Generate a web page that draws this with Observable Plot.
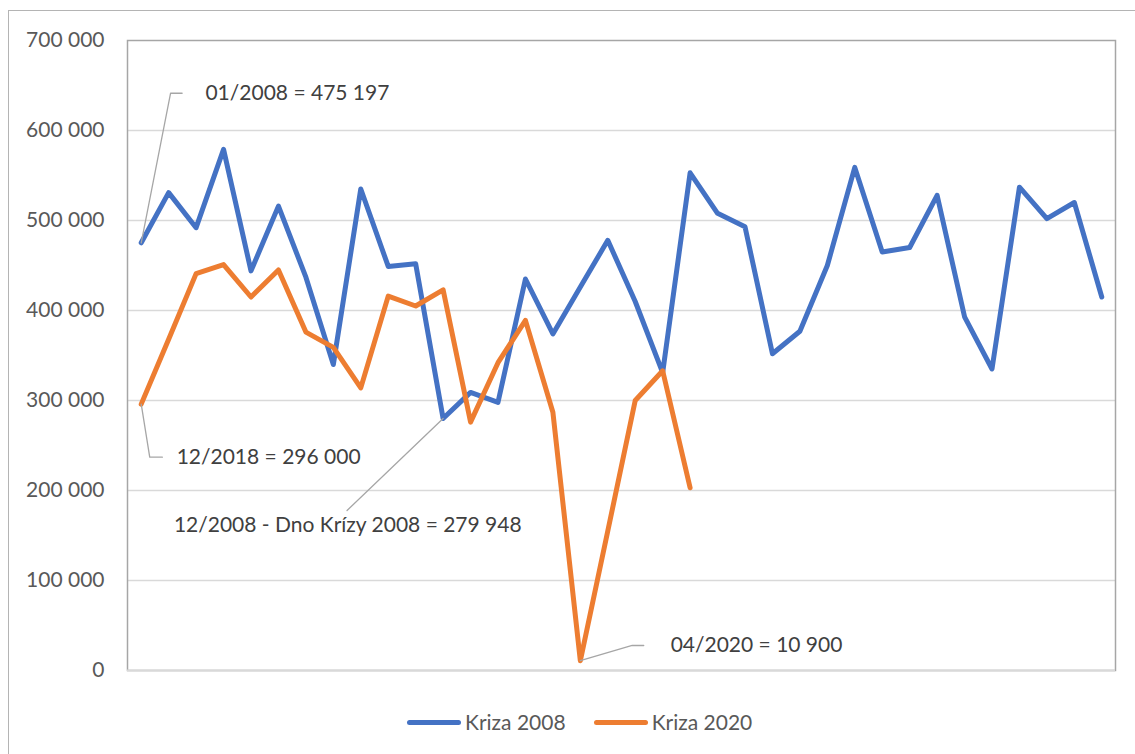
<!DOCTYPE html>
<html>
<head>
<meta charset="utf-8">
<script src="https://cdn.jsdelivr.net/npm/d3@7"></script>
<script src="https://cdn.jsdelivr.net/npm/@observablehq/plot@0.6"></script>
<style>
  body { margin: 0; background: #fff; font-family: Lato, "Open Sans", sans-serif; }
  #wrap { position: relative; width: 1135px; height: 754px; overflow: hidden; }
  #frame { position: absolute; left: 8px; top: 10px; width: 1200px; height: 800px;
           border-top: 1.5px solid #b4b4b4; border-left: 1.5px solid #b4b4b4; }
  #chart { position: absolute; left: 0; top: 0; }
  #legend { position: absolute; top: 708px; left: 407px; display: flex; align-items: center;
            font-size: 21px; color: #595959; line-height: 28px; }
  .item { display: flex; align-items: center; margin-right: 28px; }
  .sw { width: 54px; height: 5px; border-radius: 3px; margin-right: 4px; }
</style>
</head>
<body>
<div id="wrap">
  <div id="frame"></div>
  <div id="chart"></div>
  <div id="legend"></div>
</div>
<script>
// ---- data ----
const seriesNames = ["Kriza 2008", "Kriza 2020"];
const seriesColors = ["#4472C4", "#ED7D31"];

const months2008 = [
  "01/2008","02/2008","03/2008","04/2008","05/2008","06/2008","07/2008","08/2008","09/2008","10/2008","11/2008","12/2008",
  "01/2009","02/2009","03/2009","04/2009","05/2009","06/2009","07/2009","08/2009","09/2009","10/2009","11/2009","12/2009",
  "01/2010","02/2010","03/2010","04/2010","05/2010","06/2010","07/2010","08/2010","09/2010","10/2010","11/2010","12/2010"
];
const kriza2008 = [
  475197, 531000, 492000, 579000, 444000, 516000, 437000, 340000, 535000, 449000, 452000, 279948,
  309000, 298000, 435000, 374000, 426000, 478000, 410000, 331000, 553000, 508000, 493000, 352000,
  377000, 450000, 559000, 465000, 470000, 528000, 393000, 335000, 537000, 502000, 520000, 415000
];

const months2020 = [
  "12/2018","01/2019","02/2019","03/2019","04/2019","05/2019","06/2019","07/2019","08/2019","09/2019","10/2019","11/2019",
  "12/2019","01/2020","02/2020","03/2020","04/2020","05/2020","06/2020","07/2020","08/2020"
];
const kriza2020 = [
  296000, 368000, 441000, 451000, 415000, 445000, 376000, 359000, 314000, 416000, 405000, 423000,
  276000, 342000, 389000, 287000, 10900, 155000, 300000, 333000, 203000
];

const yTicks = [0, 100000, 200000, 300000, 400000, 500000, 600000, 700000];

// annotation texts and the data point each one refers to
const annotationLabels = ["01/2008 = 475 197", "12/2018 = 296 000", "12/2008 - Dno Krízy 2008 = 279 948", "04/2020 = 10 900"];
const annotationSeries = [0, 1, 0, 1];
const annotationMonth = ["01/2008", "12/2018", "12/2008", "04/2020"];

// label placement (data units: month index, value)
const annotationLayout = [
  { elbow: [1.07, 641400], end: [1.49, 641400], text: [2.34, 641400] },
  { elbow: [0.31, 237000], end: [0.77, 237000], text: [1.29, 237000] },
  { elbow: [7.5, 177800], end: null,           text: [1.19, 161000] },
  { elbow: [17.89, 27800], end: [18.31, 27800], text: [19.29, 27800] }
];

// ---- build tables ----
const rows = [];
months2008.forEach((m, i) => rows.push({ series: seriesNames[0], month: m, i, value: kriza2008[i] }));
months2020.forEach((m, i) => rows.push({ series: seriesNames[1], month: m, i, value: kriza2020[i] }));

const leaderRows = [];
const textRows = [];
annotationLabels.forEach((label, k) => {
  const months = annotationSeries[k] === 0 ? months2008 : months2020;
  const vals = annotationSeries[k] === 0 ? kriza2008 : kriza2020;
  const i = months.indexOf(annotationMonth[k]);
  const L = annotationLayout[k];
  leaderRows.push({ id: k, x: i, y: vals[i] });
  leaderRows.push({ id: k, x: L.elbow[0], y: L.elbow[1] });
  if (L.end) leaderRows.push({ id: k, x: L.end[0], y: L.end[1] });
  textRows.push({ label, x: L.text[0], y: L.text[1] });
});

const fmt = d => d3.format(",")(d).replace(/,/g, " ");

const chart = Plot.plot({
  width: 1135,
  height: 700,
  marginLeft: 127,
  marginRight: 20,
  marginTop: 40,
  marginBottom: 30,
  style: { fontFamily: "Lato, 'Open Sans', sans-serif", fontSize: "21px", color: "#595959", background: "transparent" },
  x: { type: "linear", domain: [-0.5, 35.5], axis: null },
  y: { domain: [0, 700000], axis: null },
  color: { domain: seriesNames, range: seriesColors },
  marks: [
    Plot.ruleY(yTicks.filter(d => d > 0 && d < 700000), { stroke: "#d9d9d9", strokeWidth: 1.3 }),
    Plot.frame({ stroke: "#a6a6a6", strokeWidth: 1.5 }),
    Plot.ruleY([0], { stroke: "#d9d9d9", strokeWidth: 2 }),
    Plot.axisY({ ticks: yTicks, tickSize: 0, tickPadding: 23, tickFormat: fmt, label: null, fill: "#595959", fontSize: 21 }),
    Plot.line(rows, { x: "i", y: "value", z: "series", stroke: "series", strokeWidth: 5,
      strokeLinecap: "round", strokeLinejoin: "round" }),
    Plot.line(leaderRows, { x: "x", y: "y", z: "id", stroke: "#a6a6a6", strokeWidth: 1.3 }),
    Plot.text(textRows, { x: "x", y: "y", text: "label", textAnchor: "start", fill: "#404040", fontSize: 21 })
  ]
});
document.getElementById("chart").appendChild(chart);

// ---- legend ----
const legend = document.getElementById("legend");
seriesNames.forEach((name, k) => {
  const item = document.createElement("div");
  item.className = "item";
  const sw = document.createElement("div");
  sw.className = "sw";
  sw.style.background = seriesColors[k];
  const t = document.createElement("span");
  t.textContent = name;
  item.appendChild(sw);
  item.appendChild(t);
  legend.appendChild(item);
});
</script>
</body>
</html>
